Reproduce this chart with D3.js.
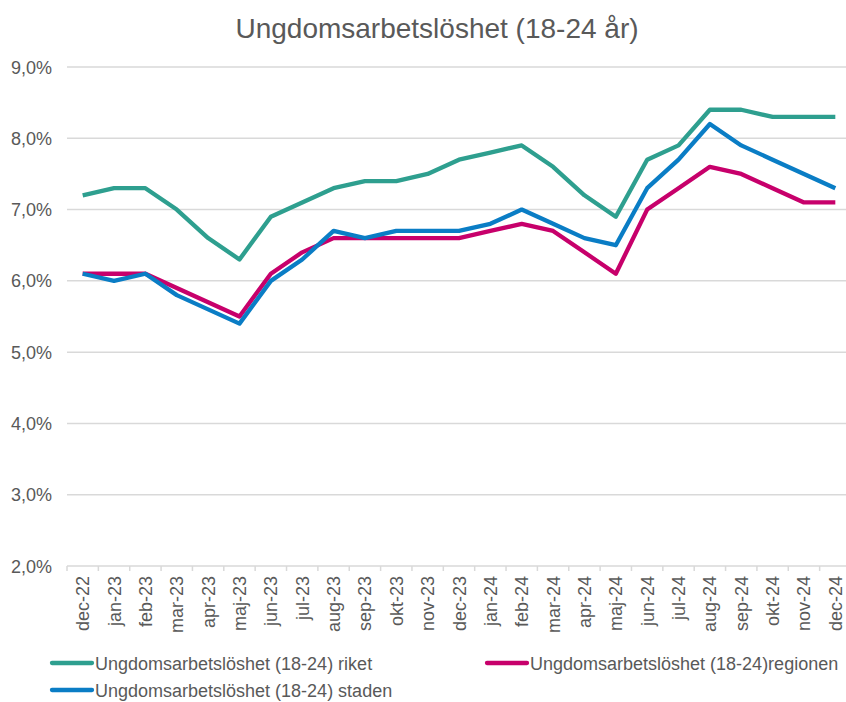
<!DOCTYPE html>
<html>
<head>
<meta charset="utf-8">
<script src="https://cdn.jsdelivr.net/npm/d3@7/dist/d3.min.js"></script>
<style>
  body { margin: 0; background: #fff; }
  svg { display: block; font-family: "Liberation Sans", Arial, sans-serif; }
</style>
</head>
<body>
<svg id="chart" width="846" height="702"></svg>
<script>
var months = ['dec-22', 'jan-23', 'feb-23', 'mar-23', 'apr-23', 'maj-23', 'jun-23', 'jul-23', 'aug-23',
    'sep-23', 'okt-23', 'nov-23', 'dec-23', 'jan-24', 'feb-24', 'mar-24', 'apr-24', 'maj-24', 'jun-24',
    'jul-24', 'aug-24', 'sep-24', 'okt-24', 'nov-24', 'dec-24'];

var riket = [7.2, 7.3, 7.3, 7.0, 6.6, 6.3, 6.9, 7.1, 7.3, 7.4, 7.4, 7.5, 7.7, 7.8, 7.9, 7.6, 7.2, 6.9,
    7.7, 7.9, 8.4, 8.4, 8.3, 8.3, 8.3];
var regionen = [6.1, 6.1, 6.1, 5.9, 5.7, 5.5, 6.1, 6.4, 6.6, 6.6, 6.6, 6.6, 6.6, 6.7, 6.8, 6.7, 6.4, 6.1,
    7.0, 7.3, 7.6, 7.5, 7.3, 7.1, 7.1];
var staden = [6.1, 6.0, 6.1, 5.8, 5.6, 5.4, 6.0, 6.3, 6.7, 6.6, 6.7, 6.7, 6.7, 6.8, 7.0, 6.8, 6.6, 6.5,
    7.3, 7.7, 8.2, 7.9, 7.7, 7.5, 7.3];

var yTicks = [2, 3, 4, 5, 6, 7, 8, 9];

var series = [
    {name: 'Ungdomsarbetslöshet (18-24) riket', values: riket, color: '#2e9f8f'},
    {name: 'Ungdomsarbetslöshet (18-24)regionen', values: regionen, color: '#c7006b'},
    {name: 'Ungdomsarbetslöshet (18-24) staden', values: staden, color: '#0a7dc5'}
];

var svg = d3.select('#chart');
var plotLeft = 67, plotRight = 851, plotTop = 67, plotBottom = 566;
var textColor = '#595959';

var x = d3.scaleBand().domain(months).range([plotLeft, plotRight]);
var y = d3.scaleLinear().domain([2, 9]).range([plotBottom, plotTop]);

// title
svg.append('text')
    .attr('x', 437)
    .attr('y', 38)
    .attr('text-anchor', 'middle')
    .attr('font-size', 28)
    .attr('fill', textColor)
    .text('Ungdomsarbetslöshet (18-24 år)');

// grid
svg.append('g').selectAll('line').data(yTicks).enter()
    .append('line')
    .attr('x1', plotLeft)
    .attr('x2', 846)
    .attr('y1', function (d) { return y(d); })
    .attr('y2', function (d) { return y(d); })
    .attr('stroke', '#d9d9d9')
    .attr('stroke-width', 1.5);

// y labels
svg.append('g').selectAll('text').data(yTicks).enter()
    .append('text')
    .attr('x', 52)
    .attr('y', function (d) { return y(d) + 6.5; })
    .attr('text-anchor', 'end')
    .attr('font-size', 18)
    .attr('fill', textColor)
    .text(function (d) { return d3.format('.1f')(d).replace('.', ',') + '%'; });

// x tick marks at band edges
var edges = months.map(function (m) { return x(m); });
svg.append('g').selectAll('line').data(edges).enter()
    .append('line')
    .attr('x1', function (d) { return d; })
    .attr('x2', function (d) { return d; })
    .attr('y1', plotBottom)
    .attr('y2', plotBottom + 5)
    .attr('stroke', '#d9d9d9')
    .attr('stroke-width', 1.5);

// x labels
svg.append('g').selectAll('text').data(months).enter()
    .append('text')
    .attr('transform', function (d) {
        return 'translate(' + (x(d) + x.bandwidth() / 2 + 6.5) + ',' + (plotBottom + 10) + ') rotate(-90)';
    })
    .attr('text-anchor', 'end')
    .attr('font-size', 18)
    .attr('fill', textColor)
    .text(function (d) { return d; });

// lines
var line = d3.line()
    .x(function (d, i) { return x(months[i]) + x.bandwidth() / 2; })
    .y(function (d) { return y(d); });

svg.append('g').selectAll('path').data(series).enter()
    .append('path')
    .attr('d', function (s) { return line(s.values); })
    .attr('fill', 'none')
    .attr('stroke', function (s) { return s.color; })
    .attr('stroke-width', 4.3)
    .attr('stroke-linejoin', 'round');

// legend
var legendPos = [
    {x: 52, y: 663},
    {x: 487, y: 663},
    {x: 52, y: 690}
];
var legend = svg.append('g').selectAll('g').data(series).enter()
    .append('g')
    .attr('transform', function (s, i) { return 'translate(' + legendPos[i].x + ',' + legendPos[i].y + ')'; });
legend.append('line')
    .attr('x1', 0)
    .attr('x2', 40)
    .attr('stroke', function (s) { return s.color; })
    .attr('stroke-width', 4.3)
    .attr('stroke-linecap', 'round');
legend.append('text')
    .attr('x', 43)
    .attr('y', 6.5)
    .attr('font-size', 18)
    .attr('fill', textColor)
    .text(function (s) { return s.name; });
</script>
</body>
</html>
